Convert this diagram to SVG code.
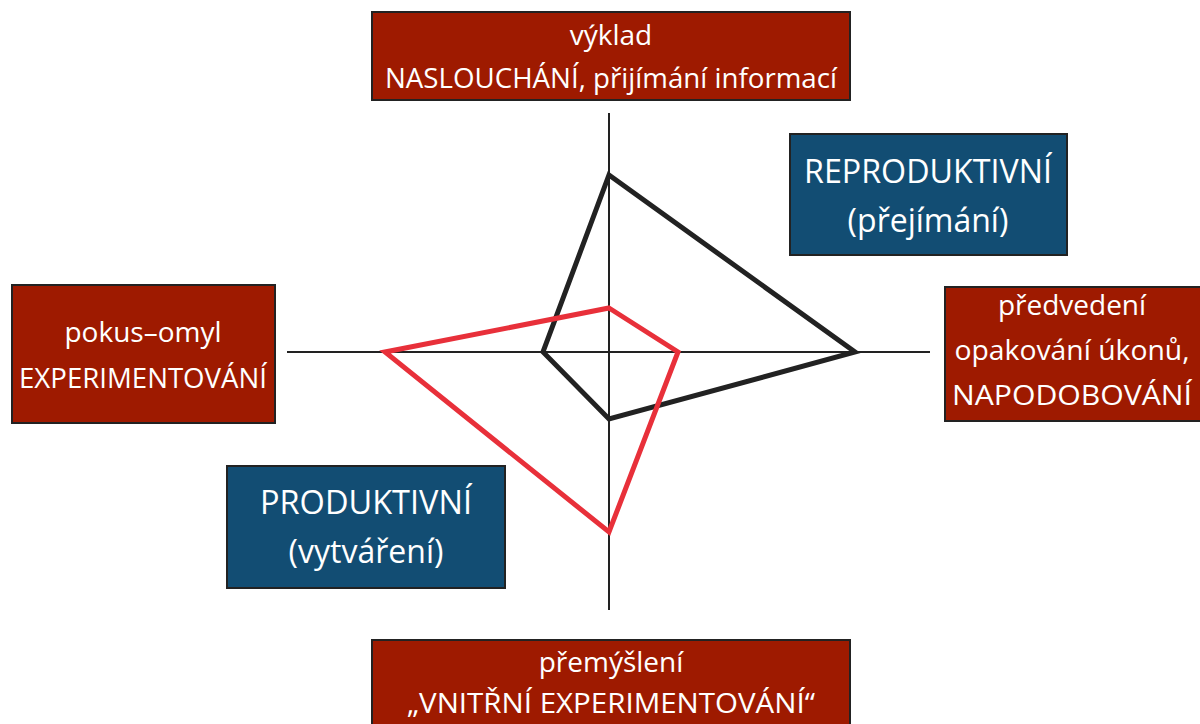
<svg xmlns="http://www.w3.org/2000/svg" width="1200" height="724" viewBox="0 0 1200 724">
<style>
.red{fill:#9E1A00;stroke:#222;stroke-width:2}
.blue{fill:#124D73;stroke:#222;stroke-width:2}
.t{font-family:"Open Sans","Liberation Sans",sans-serif;fill:#fff;text-anchor:middle}
.s{font-size:28px}
.b{font-size:32px}
.axis{stroke:#222;stroke-width:2;fill:none}
</style>
<rect width="1200" height="724" fill="#fff"/>
<g id="connectors">
<line class="axis" x1="287" y1="352" x2="930" y2="352"/>
<line class="axis" x1="609" y1="113" x2="609" y2="610"/>
<polygon points="609,175 855,352 609,419 543,352" fill="none" stroke="#222" stroke-width="5" stroke-linejoin="miter"/>
<polygon points="609,308 678,352 609,532 385,352" fill="none" stroke="#E8303A" stroke-width="5" stroke-linejoin="miter"/>
</g>
<g id="top">
<rect class="red" x="372" y="12" width="478" height="88"/>
<text class="t s" x="611" y="45">výklad</text>
<text class="t s" x="611" y="88" textLength="452" lengthAdjust="spacingAndGlyphs">NASLOUCHÁNÍ, přijímání informací</text>
</g>
<g id="right">
<rect class="red" x="945" y="287" width="262" height="134"/>
<text class="t s" x="1072" y="315">předvedení</text>
<text class="t s" x="1072" y="360" textLength="235" lengthAdjust="spacingAndGlyphs">opakování úkonů,</text>
<text class="t s" x="1072" y="405" textLength="240" lengthAdjust="spacingAndGlyphs">NAPODOBOVÁNÍ</text>
</g>
<g id="left">
<rect class="red" x="12" y="285" width="263" height="138"/>
<text class="t s" x="143" y="342">pokus–omyl</text>
<text class="t s" x="143" y="388" textLength="248" lengthAdjust="spacingAndGlyphs">EXPERIMENTOVÁNÍ</text>
</g>
<g id="bottom">
<rect class="red" x="372" y="640" width="478" height="90"/>
<text class="t s" x="611" y="672">přemýšlení</text>
<text class="t s" x="611" y="713" textLength="408" lengthAdjust="spacingAndGlyphs">„VNITŘNÍ EXPERIMENTOVÁNÍ“</text>
</g>
<g id="reproduktivni">
<rect class="blue" x="790" y="134" width="277" height="121"/>
<text class="t b" x="928" y="183" textLength="248" lengthAdjust="spacingAndGlyphs">REPRODUKTIVNÍ</text>
<text class="t b" x="928" y="232">(přejímání)</text>
</g>
<g id="produktivni">
<rect class="blue" x="227" y="466" width="278" height="122"/>
<text class="t b" x="366" y="514" textLength="212" lengthAdjust="spacingAndGlyphs">PRODUKTIVNÍ</text>
<text class="t b" x="366" y="563">(vytváření)</text>
</g>
</svg>
